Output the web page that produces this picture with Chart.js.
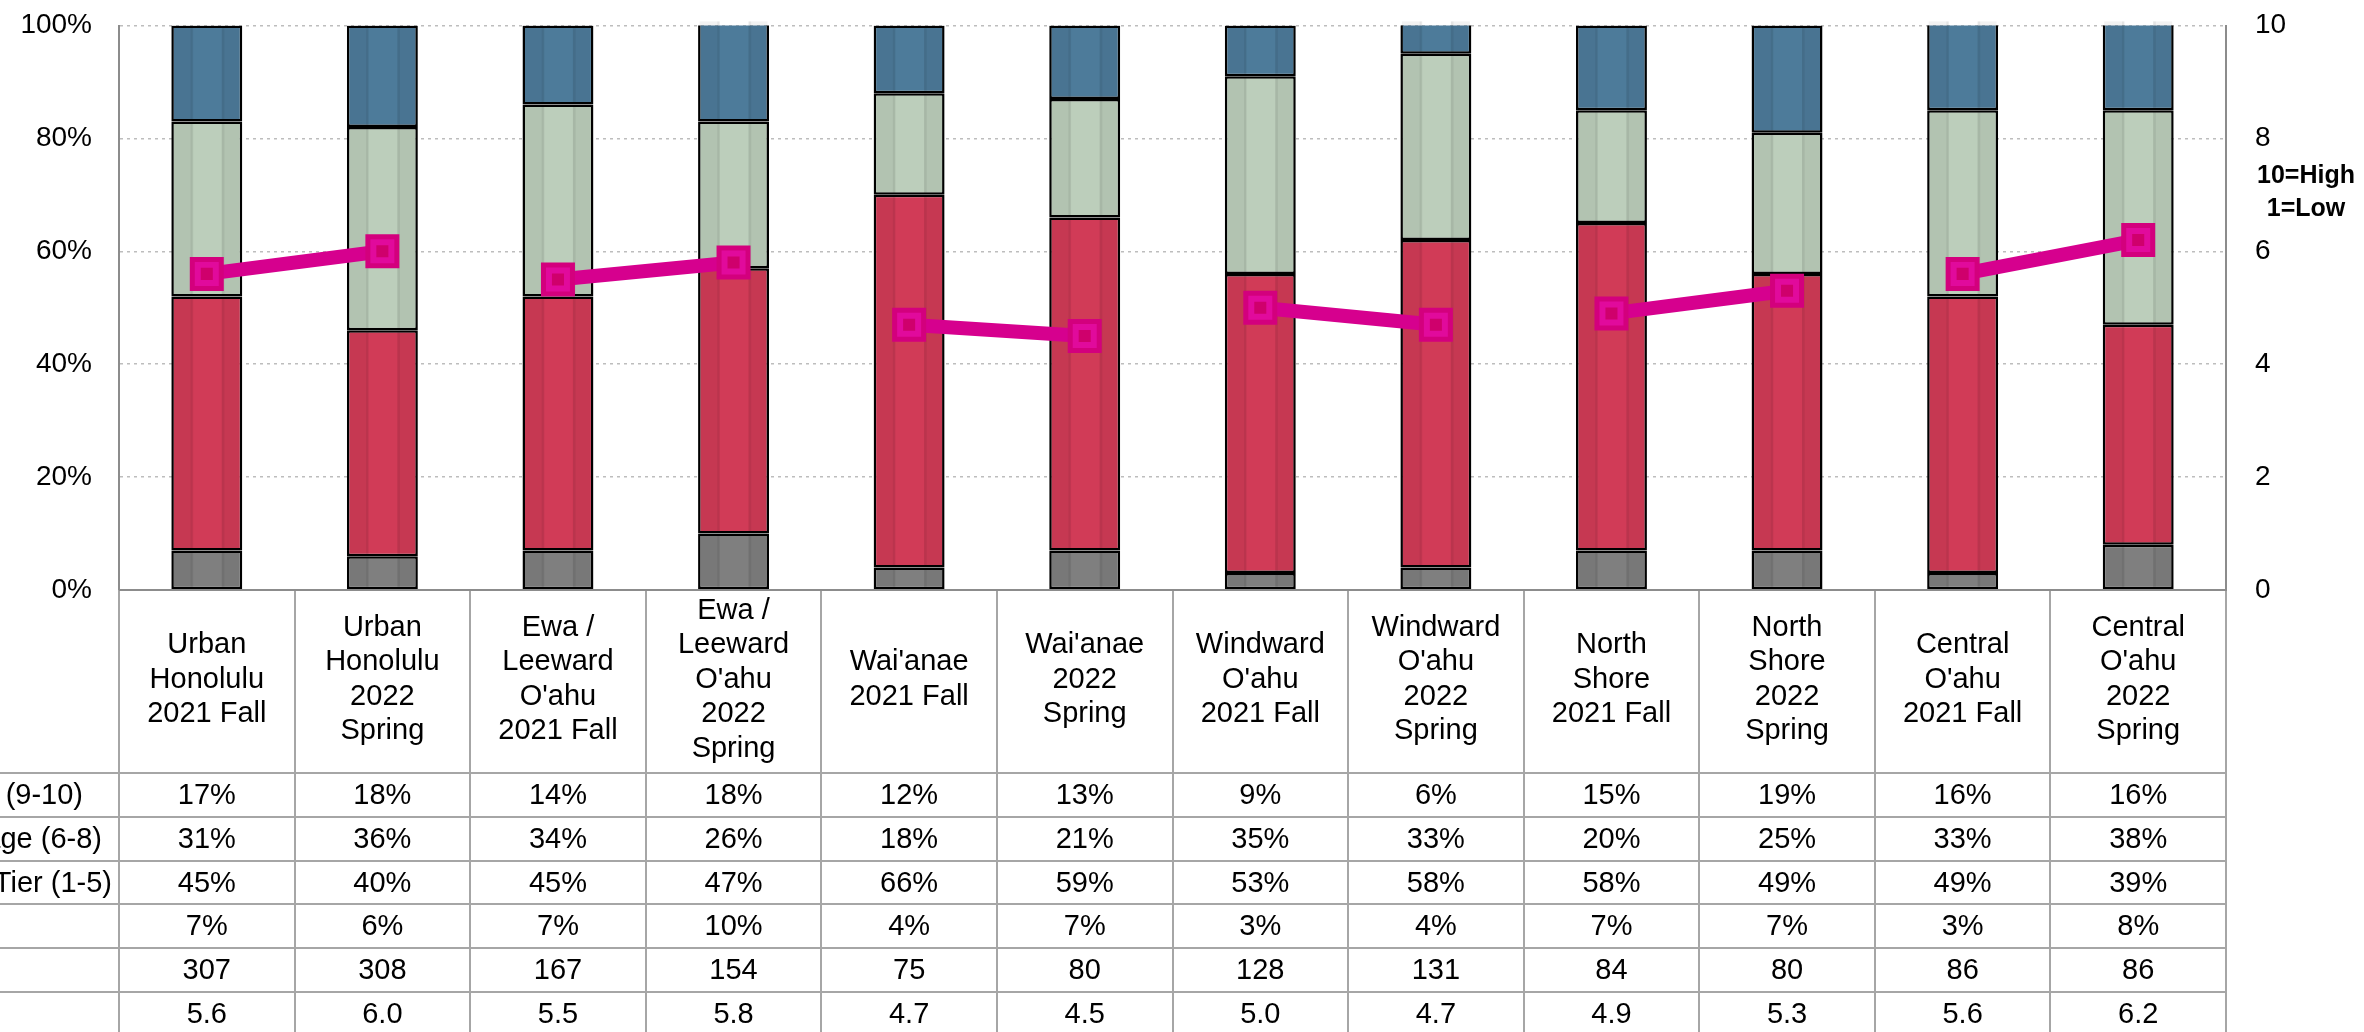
<!DOCTYPE html>
<html>
<head>
<meta charset="utf-8">
<script src="https://cdn.jsdelivr.net/npm/chart.js@4"></script>
<style>
  html, body { margin: 0; padding: 0; background: #fff; }
  #wrap { width: 2364px; height: 1032px; position: relative; }
</style>
</head>
<body>
<div id="wrap"><canvas id="myChart"></canvas></div>
<script>
// categories (one per column, split into lines as in the table header)
const categories = [
  ["Urban", "Honolulu", "2021 Fall"],
  ["Urban", "Honolulu", "2022", "Spring"],
  ["Ewa /", "Leeward", "O'ahu", "2021 Fall"],
  ["Ewa /", "Leeward", "O'ahu", "2022", "Spring"],
  ["Wai'anae", "2021 Fall"],
  ["Wai'anae", "2022", "Spring"],
  ["Windward", "O'ahu", "2021 Fall"],
  ["Windward", "O'ahu", "2022", "Spring"],
  ["North", "Shore", "2021 Fall"],
  ["North", "Shore", "2022", "Spring"],
  ["Central", "O'ahu", "2021 Fall"],
  ["Central", "O'ahu", "2022", "Spring"]
];

// series values (percent of respondents)
const topTier = [17, 18, 14, 18, 12, 13, 9, 6, 15, 19, 16, 16];
const middleRange = [31, 36, 34, 26, 18, 21, 35, 33, 20, 25, 33, 38];
const lowerTier = [45, 40, 45, 47, 66, 59, 53, 58, 58, 49, 49, 39];
const other = [7, 6, 7, 10, 4, 7, 3, 4, 7, 7, 3, 8];
const counts = [307, 308, 167, 154, 75, 80, 128, 131, 84, 80, 86, 86];
const means = [5.6, 6.0, 5.5, 5.8, 4.7, 4.5, 5.0, 4.7, 4.9, 5.3, 5.6, 6.2];

// row labels of the data table (only their right ends are inside the picture)
const rowLabels = ["Top Tier (9-10)", "Average (6-8)", "Lower Tier (1-5)", "", "", ""];

// tick labels
const leftTicks = [0, 20, 40, 60, 80, 100];
const rightTicks = [0, 2, 4, 6, 8, 10];
const scaleNote = ["10=High", "1=Low"];

const pink = '#D6008E';
const font = '"Liberation Sans", Arial, sans-serif';

// table rows built from the arrays above
const tableRows = [
  topTier.map(v => v + '%'),
  middleRange.map(v => v + '%'),
  lowerTier.map(v => v + '%'),
  other.map(v => v + '%'),
  counts.map(v => String(v)),
  means.map(v => v.toFixed(1))
];

// darker vertical bands on each bar, like the original's bevel look
const barStripes = {
  id: 'barStripes',
  afterDatasetDraw(chart, args) {
    const meta = args.meta;
    if (meta.type !== 'bar') return;
    const ctx = chart.ctx;
    ctx.save();
    meta.data.forEach(el => {
      const p = el.getProps(['x', 'y', 'base', 'width'], true);
      const left = p.x - p.width / 2 + 1.5;
      const w = p.width - 3;
      const top = Math.min(p.y, p.base) + 1.5;
      const h = Math.abs(p.base - p.y) - 3;
      if (h <= 0) return;
      ctx.fillStyle = 'rgba(0,0,0,0.05)';
      ctx.fillRect(left, top, w * 0.29, h);
      ctx.fillRect(left + w * 0.72, top, w * 0.28, h);
      ctx.fillStyle = 'rgba(0,0,0,0.06)';
      ctx.fillRect(left + w * 0.26, top, w * 0.04, h);
      ctx.fillRect(left + w * 0.72, top, w * 0.04, h);
    });
    ctx.restore();
  }
};

// data table under the chart + right axis note
const dataTable = {
  id: 'dataTable',
  afterDraw(chart) {
    const ctx = chart.ctx;
    const xs = chart.scales.x;
    const area = chart.chartArea;
    const n = categories.length;
    const colW = (area.right - area.left) / n;
    const headTop = area.bottom;
    const headBottom = 773;
    const rowH = 43.8;
    const bottom = 1032;

    ctx.save();
    // horizontal row lines
    ctx.strokeStyle = '#A6A6A6';
    ctx.lineWidth = 2;
    for (let r = 0; r < tableRows.length; r++) {
      const y = Math.round(headBottom + r * rowH);
      ctx.beginPath();
      ctx.moveTo(0, y);
      ctx.lineTo(area.right, y);
      ctx.stroke();
    }
    // vertical column lines
    for (let i = 0; i <= n; i++) {
      const x = Math.round(area.left + i * colW);
      ctx.beginPath();
      ctx.moveTo(x, headTop);
      ctx.lineTo(x, bottom);
      ctx.stroke();
    }
    // axis line on top of header
    ctx.strokeStyle = '#8C8C8C';
    ctx.beginPath();
    ctx.moveTo(area.left, headTop);
    ctx.lineTo(area.right + 1, headTop);
    ctx.stroke();

    ctx.fillStyle = '#000';
    ctx.textAlign = 'center';
    ctx.textBaseline = 'middle';
    ctx.font = '29px ' + font;
    // header labels
    const lh = 34.5;
    const midHead = (headTop + headBottom) / 2 - 2;
    categories.forEach((lines, i) => {
      const cx = xs.getPixelForValue(i);
      const y0 = midHead - (lines.length - 1) * lh / 2;
      lines.forEach((t, k) => ctx.fillText(t, cx, y0 + k * lh));
    });
    // table values
    tableRows.forEach((row, r) => {
      const cy = headBottom + r * rowH + rowH / 2 + 1;
      row.forEach((t, i) => ctx.fillText(t, xs.getPixelForValue(i), cy));
    });
    // row labels, cut off at the left edge
    const labelEnds = [83, 102, 112, 0, 0, 0];
    ctx.textAlign = 'right';
    rowLabels.forEach((t, r) => {
      if (!t) return;
      ctx.fillText(t, labelEnds[r], headBottom + r * rowH + rowH / 2 + 1);
    });

    // note beside right axis
    ctx.textAlign = 'center';
    ctx.font = 'bold 25px ' + font;
    ctx.fillText(scaleNote[0], 2306, 176);
    ctx.fillText(scaleNote[1], 2306, 209);
    ctx.restore();
  }
};

const ctx = document.getElementById('myChart');
new Chart(ctx, {
  data: {
    labels: categories.map(c => c.join(' ')),
    datasets: [
      {
        type: 'line',
        label: 'Mean (center)',
        data: means,
        yAxisID: 'y1',
        showLine: false,
        pointStyle: 'rect',
        pointRadius: 8.5,
        pointBorderWidth: 0,
        pointBackgroundColor: '#CF006C',
        order: -1
      },
      {
        type: 'line',
        label: 'Mean',
        data: means,
        yAxisID: 'y1',
        borderColor: pink,
        borderWidth: 14,
        segment: {
          borderColor: c => (c.p0DataIndex % 2 ? 'rgba(0,0,0,0)' : pink)
        },
        pointStyle: 'rect',
        pointRadius: 20.5,
        pointBorderWidth: 5,
        pointBorderColor: '#D3007D',
        pointBackgroundColor: '#E10A9C',
        order: 0
      },
      {
        type: 'bar', label: 'Other', data: other, yAxisID: 'y',
        backgroundColor: '#7F7F7F', borderColor: '#000', borderWidth: 2.5,
        borderSkipped: false, order: 1
      },
      {
        type: 'bar', label: 'Lower Tier (1-5)', data: lowerTier, yAxisID: 'y',
        backgroundColor: '#D13B57', borderColor: '#000', borderWidth: 2.5,
        borderSkipped: false, order: 1
      },
      {
        type: 'bar', label: 'Average (6-8)', data: middleRange, yAxisID: 'y',
        backgroundColor: '#BCCEBB', borderColor: '#000', borderWidth: 2.5,
        borderSkipped: false, order: 1
      },
      {
        type: 'bar', label: 'Top Tier (9-10)', data: topTier, yAxisID: 'y',
        backgroundColor: '#4D7B9A', borderColor: '#000', borderWidth: 2.5,
        borderSkipped: false, order: 1
      }
    ]
  },
  options: {
    responsive: true,
    maintainAspectRatio: false,
    animation: false,
    layout: { padding: { top: 22, bottom: 1032 - 590, left: 0, right: 0 } },
    datasets: { bar: { barPercentage: 0.404, categoryPercentage: 1 } },
    plugins: { legend: { display: false }, tooltip: { enabled: false } },
    scales: {
      x: { display: false, stacked: true },
      y: {
        stacked: true,
        position: 'left',
        min: 0, max: 100,
        afterBuildTicks: s => { s.ticks = leftTicks.map(v => ({ value: v })); },
        afterFit: s => { s.width = 119; s.paddingTop = 0; s.paddingBottom = 0; },
        ticks: {
          padding: 27,
          color: '#000',
          font: { family: font, size: 28 },
          callback: v => v + '%'
        },
        grid: { color: '#BDBDBD', lineWidth: 1.5, drawTicks: false },
        border: { display: true, color: '#8C8C8C', width: 2, dash: [3, 4] }
      },
      y1: {
        position: 'right',
        min: 0, max: 10,
        afterBuildTicks: s => { s.ticks = rightTicks.map(v => ({ value: v })); },
        afterFit: s => { s.width = 2364 - 2226; s.paddingTop = 0; s.paddingBottom = 0; },
        ticks: {
          padding: 29,
          color: '#000',
          font: { family: font, size: 28 }
        },
        grid: { display: false, drawTicks: false },
        border: { display: true, color: '#8C8C8C', width: 2 }
      }
    }
  },
  plugins: [barStripes, dataTable]
});
</script>
</body>
</html>
